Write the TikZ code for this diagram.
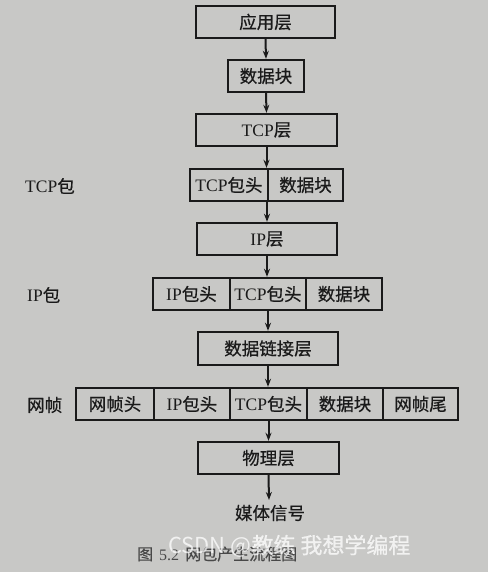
\documentclass[tikz,border=0pt]{standalone}
\usepackage{fontspec}
\setmainfont{Liberation Serif}
\newfontfamily\cjk[Scale=1.0,FakeBold=0.6]{Noto Sans CJK SC}
\newfontfamily\wmfont{Noto Sans CJK SC}
\newcommand\zh[1]{{\cjk #1}}
\usetikzlibrary{arrows.meta}
\definecolor{paper}{HTML}{C8C8C6}
\definecolor{ink}{HTML}{1A1A1A}
\tikzset{
  box/.style={draw=ink, line width=2.4pt, fill=paper, inner sep=0pt,
    minimum height=32pt, text=ink, font=\fontsize{17.5}{20}\selectfont},
  lbl/.style={inner sep=0pt, text=ink, font=\fontsize{17.5}{20}\selectfont},
  arr/.style={draw=ink, line width=2pt, -{Stealth[length=8pt,width=6pt]}}
}
\begin{document}
\begin{tikzpicture}[x=1pt,y=-1pt]
\fill[paper] (0,0) rectangle (488,572);
\useasboundingbox (0,0) rectangle (488,572);
% layers
\node[box, minimum width=139pt] (app) at (265.5,22) {\zh{应用层}};
\node[box, minimum width=76pt] (blk) at (266,76) {\zh{数据块}};
\node[box, minimum width=141pt] (tcpl) at (266.5,130) {TCP\zh{层}};
\node[box, minimum width=78pt] (tcph) at (229,185) {TCP\zh{包头}};
\node[box, minimum width=75pt] (tcpd) at (305.5,185) {\zh{数据块}};
\node[box, minimum width=140pt] (ipl) at (267,239) {IP\zh{层}};
\node[box, minimum width=77pt] (iph) at (191.5,294) {IP\zh{包头}};
\node[box, minimum width=76pt] (ipt) at (268,294) {TCP\zh{包头}};
\node[box, minimum width=76pt] (ipd) at (344,294) {\zh{数据块}};
\node[box, minimum width=140pt, minimum height=33pt] (dll) at (268,348.5) {\zh{数据链接层}};
\node[box, minimum width=78pt] (fh) at (115,404) {\zh{网帧头}};
\node[box, minimum width=76pt] (fip) at (192,404) {IP\zh{包头}};
\node[box, minimum width=77pt] (ftcp) at (268.5,404) {TCP\zh{包头}};
\node[box, minimum width=76pt] (fd) at (345,404) {\zh{数据块}};
\node[box, minimum width=75pt] (ft) at (420.5,404) {\zh{网帧尾}};
\node[box, minimum width=141pt] (phy) at (268.5,458) {\zh{物理层}};
\node[lbl] (media) at (270,513) {\zh{媒体信号}};
\coordinate (mediatop) at (269,500);
% row labels
\node[lbl, anchor=west] (ltcp) at (25,186) {TCP\zh{包}};
\node[lbl, anchor=west] (lip) at (27,295) {IP\zh{包}};
\node[lbl, anchor=west] (lfr) at (27,405) {\zh{网帧}};
% arrows
\draw[arr] (app.south) -- (blk.north);
\draw[arr] (blk.south) -- (tcpl.north);
\draw[arr] (tcpl.south) -- (tcpl.south |- tcph.north);
\draw[arr] (ipl.north |- tcph.south) -- (ipl.north);
\draw[arr] (ipl.south) -- (ipl.south |- ipt.north);
\draw[arr] (ipt.south) -- (dll.north);
\draw[arr] (dll.south) -- (dll.south |- ftcp.north);
\draw[arr] (ftcp.south) -- (phy.north);
\draw[arr] (phy.south) -- (mediatop);
% caption and watermark
\node[lbl, anchor=west, text=ink!80, font=\fontsize{16}{18}\selectfont] (cap) at (137,554) {\zh{图}\hspace{6pt}5.2\hspace{6pt}\zh{网包产生流程图}};
\node[inner sep=0pt, anchor=west, text=white, opacity=0.75, font=\fontsize{22}{24}\wmfont] (wm) at (168,546) {CSDN @\zh{教练} \zh{我想学编程}};
\end{tikzpicture}
\end{document}
